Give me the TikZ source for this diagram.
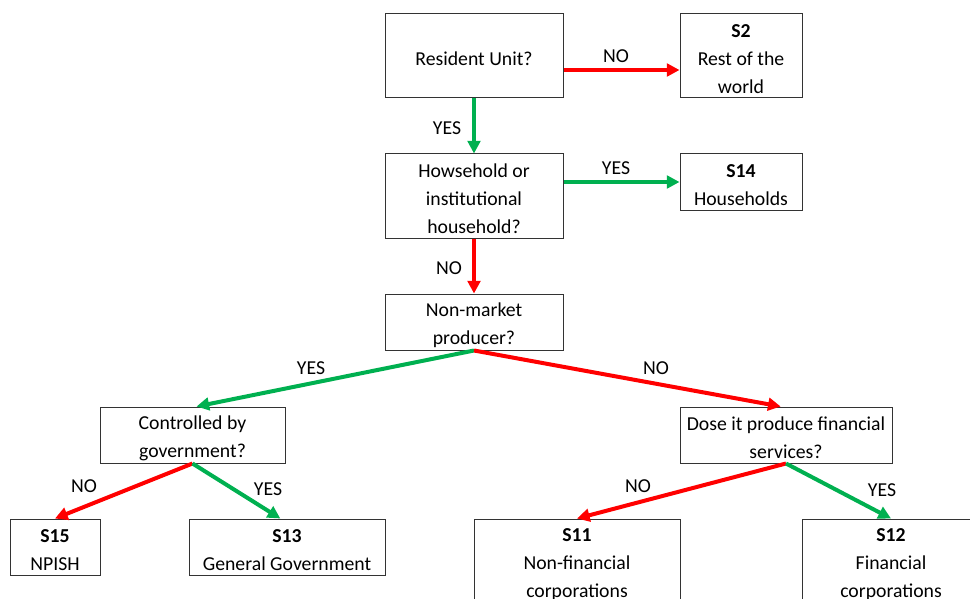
\documentclass[tikz,border=0pt]{standalone}
\usepackage{fontspec}
\setmainfont{Carlito}
\usetikzlibrary{arrows.meta}
\definecolor{okred}{HTML}{FF0000}
\definecolor{okgreen}{HTML}{00B050}
\newcommand\tup{\rule{0pt}{15pt}}
\tikzset{
  box/.style={draw=black!80, line width=0.75pt, rectangle, inner sep=0pt, align=center,
    font=\fontsize{14.8}{21}\selectfont},
  lbl/.style={inner sep=0pt, font=\fontsize{14.8}{21}\selectfont},
  arr/.style={line width=3pt, -{Triangle[length=9.5pt,width=9.5pt]}},
  yesarr/.style={arr, draw=okgreen},
  noarr/.style={arr, draw=okred},
}
\begin{document}
\begin{tikzpicture}[x=0.75pt,y=-0.75pt]
\useasboundingbox (0,0) rectangle (970,599);
\clip (0,0) rectangle (970,599);
% boxes
\node[box, minimum width=133.5pt, minimum height=63pt] (ru) at (474,56) {\tup Resident Unit?};
\node[box, minimum width=91.5pt, minimum height=63pt] (s2) at (741,56) {\tup\textbf{S2}\\Rest of the\\world};
\node[box, minimum width=133.5pt, minimum height=63pt] (hh) at (474,196) {\tup Howsehold or\\institutional\\household?};
\node[box, minimum width=91.5pt, minimum height=42pt] (s14) at (741,182) {\tup\textbf{S14}\\Households};
\node[box, minimum width=133.5pt, minimum height=42pt] (nm) at (474,322) {\tup Non-market\\producer?};
\node[box, minimum width=138.75pt, minimum height=42pt] (cg) at (192.5,435) {\tup Controlled by\\government?};
\node[box, minimum width=159pt, minimum height=42pt] (df) at (786,435) {\tup Dose it produce financial\\services?};
\node[box, minimum width=67.5pt, minimum height=42pt] (s15) at (55,547) {\tup\textbf{S15}\\NPISH};
\node[box, minimum width=147pt, minimum height=42pt] (s13) at (287,547) {\tup\textbf{S13}\\General Government};
\node[box, minimum width=154.5pt, minimum height=63pt] (s11) at (577,561) {\tup\textbf{S11}\\Non-financial\\corporations};
\node[box, minimum width=133.5pt, minimum height=63pt] (s12) at (891,561) {\tup\textbf{S12}\\Financial\\corporations};
% connectors
\draw[noarr] (ru.east |- 0,70) -- (s2.west |- 0,70);
\draw[yesarr] (ru) -- (hh);
\draw[yesarr] (hh.east |- 0,182) -- (s14.west |- 0,182);
\draw[noarr] (hh) -- (nm);
\draw[yesarr] (nm.south) -- ([xshift=3pt]cg.north);
\draw[noarr] (nm.south) -- ([xshift=-4pt]df.north);
\draw[noarr] (cg.south) -- (s15.north);
\draw[yesarr] (cg.south) -- ([xshift=-5pt]s13.north);
\draw[noarr] (df.south) -- (s11.north);
\draw[yesarr] (df.south) -- (s12.north);
% labels
\node[lbl] (l1) at (616,56) {NO};
\node[lbl] (l2) at (447,128) {YES};
\node[lbl] (l3) at (616,168) {YES};
\node[lbl] (l4) at (449,268) {NO};
\node[lbl] (l5) at (311,368) {YES};
\node[lbl] (l6) at (656,368) {NO};
\node[lbl] (l7) at (84,486) {NO};
\node[lbl] (l8) at (268,489) {YES};
\node[lbl] (l9) at (638,486) {NO};
\node[lbl] (l10) at (882,490) {YES};
\end{tikzpicture}
\end{document}
